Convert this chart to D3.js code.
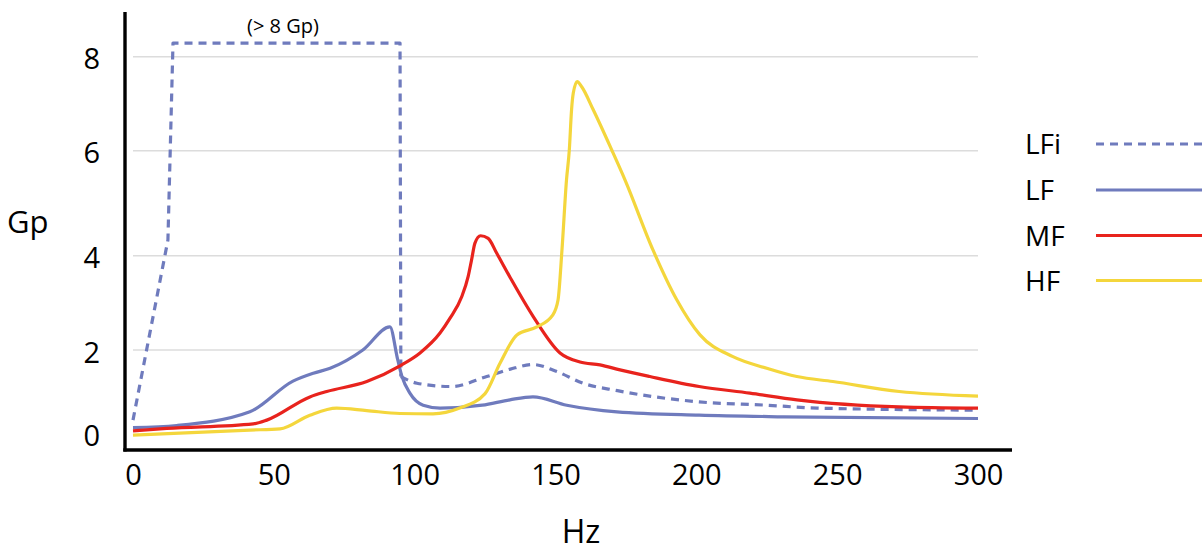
<!DOCTYPE html>
<html>
<head>
<meta charset="utf-8">
<script src="https://cdn.jsdelivr.net/npm/d3@7"></script>
<style>
  html, body { margin: 0; padding: 0; background: #fff; }
  svg { display: block; font-family: "Open Sans", "Noto Sans", sans-serif; }
</style>
</head>
<body>
<svg id="chart" width="1202" height="552"></svg>
<script>
// ---------- data ----------
const xTicks = [0, 50, 100, 150, 200, 250, 300];
const yTicks = [0, 2, 4, 6, 8];
const gridValues = [2, 4, 6, 8];

const seriesNames = ["LFi", "LF", "MF", "HF"];

// LFi: straight-edged "off the chart" part, then a smooth tail
const lfiHz = [0, 12.4, 14.2, 94.8, 95.1, 100.8, 113, 125.6, 134, 142, 150.5, 159.7, 172, 201, 225, 243, 300];
const lfiGp = [0.31, 4.3, 8.29, 8.29, 1.36, 1.2, 1.12, 1.36, 1.54, 1.65, 1.48, 1.2, 1.02, 0.75, 0.67, 0.6, 0.55];
const lfiStraightCount = 5; // first points joined with straight segments

const lfHz = [0, 15.5, 41.5, 56.8, 64, 70, 81.6, 91.2, 94, 95.5, 98.3, 103, 109, 124, 133.8, 142, 154, 171.8, 201, 231, 300];
const lfGp = [0.13, 0.18, 0.51, 1.25, 1.44, 1.56, 2.0, 2.49, 1.76, 1.36, 0.96, 0.67, 0.6, 0.67, 0.8, 0.87, 0.67, 0.51, 0.43, 0.39, 0.35];

const mfHz = [0, 12, 42.7, 47.5, 62.8, 68.8, 83, 94.8, 101.9, 109, 112.5, 116.7, 119.0, 120.2, 121.4, 123.4, 126.1, 129.1, 133.8, 142.1, 151.6, 158.7, 165.8, 172.9, 183.5, 201, 219, 235.7, 272, 300];
const mfGp = [0.05, 0.11, 0.22, 0.31, 0.87, 1.0, 1.24, 1.62, 1.93, 2.36, 2.67, 3.13, 3.56, 3.91, 4.24, 4.38, 4.33, 4.05, 3.55, 2.71, 1.93, 1.71, 1.64, 1.52, 1.36, 1.12, 0.96, 0.8, 0.63, 0.6];

const hfHz = [0, 41.5, 52.2, 62.8, 72.3, 83, 94.8, 106.5, 116, 125, 130.3, 136.3, 143.4, 149, 150.9, 152.3, 153.9, 154.9, 155.7, 156.3, 157.7, 159.3, 163.4, 170, 174.7, 184.6, 193, 201.3, 213, 225, 235.7, 248.5, 272, 300];
const hfGp = [-0.05, 0.07, 0.1, 0.43, 0.6, 0.54, 0.47, 0.46, 0.6, 0.95, 1.68, 2.32, 2.49, 2.74, 3.06, 4.11, 5.44, 6.01, 6.87, 7.22, 7.47, 7.36, 6.87, 6.01, 5.44, 4.11, 3.07, 2.32, 1.84, 1.56, 1.36, 1.24, 1.0, 0.89];

const colors = { LFi: "#6f7bbd", LF: "#6f7bbd", MF: "#e8231d", HF: "#f4d63c" };

// ---------- drawing ----------
const svg = d3.select("#chart");

const x = d3.scaleLinear().domain([0, 300]).range([133, 978]);
// hand-drawn axis: tick spacing is not perfectly uniform
const y = d3.scaleLinear().domain([0, 2, 4, 6, 8]).range([433, 350, 255.7, 150.7, 56.7]);

// gridlines
svg.append("g").selectAll("line").data(gridValues).join("line")
  .attr("x1", x(0)).attr("x2", x(300))
  .attr("y1", d => y(d)).attr("y2", d => y(d))
  .attr("stroke", "#dcdcdc").attr("stroke-width", 1.5);

const pts = (hz, gp) => hz.map((h, i) => [h, gp[i]]);
const smooth = d3.line().x(d => x(d[0])).y(d => y(d[1])).curve(d3.curveMonotoneX);
const straight = d3.line().x(d => x(d[0])).y(d => y(d[1])).curve(d3.curveLinear);

const series = [
  { name: "LFi", hz: lfiHz, gp: lfiGp, dash: "8,6" },
  { name: "LF", hz: lfHz, gp: lfGp, dash: null },
  { name: "MF", hz: mfHz, gp: mfGp, dash: null },
  { name: "HF", hz: hfHz, gp: hfGp, dash: null }
];

const g = svg.append("g").attr("fill", "none").attr("stroke-width", 3.2)
  .attr("stroke-linejoin", "round");

// LFi: straight part + smooth tail
const lfiPts = pts(lfiHz, lfiGp);
g.append("path").attr("d", straight(lfiPts.slice(0, lfiStraightCount)))
  .attr("stroke", colors.LFi).attr("stroke-dasharray", "8,6");
g.append("path").attr("d", smooth(lfiPts.slice(lfiStraightCount - 1)))
  .attr("stroke", colors.LFi).attr("stroke-dasharray", "8,6");

// solid series
g.selectAll("path.solid").data(series.slice(1)).join("path")
  .attr("class", "solid")
  .attr("d", s => smooth(pts(s.hz, s.gp)))
  .attr("stroke", s => colors[s.name]);

// axis lines
svg.append("line").attr("x1", 125).attr("x2", 125).attr("y1", 12).attr("y2", 451.5)
  .attr("stroke", "#000").attr("stroke-width", 3.4);
svg.append("line").attr("x1", 123.3).attr("x2", 1012).attr("y1", 450).attr("y2", 450)
  .attr("stroke", "#000").attr("stroke-width", 3.4);

// x tick labels
const xAxis = svg.append("g").attr("transform", "translate(0,450)")
  .call(d3.axisBottom(x).tickValues(xTicks).tickSize(0).tickPadding(14));
xAxis.select(".domain").remove();
xAxis.selectAll("text").attr("font-size", 29).attr("fill", "#000")
  .attr("font-family", "'Open Sans', sans-serif");

// y tick labels
const yAxis = svg.append("g").attr("transform", "translate(100,0)")
  .call(d3.axisLeft(y).tickValues(yTicks).tickSize(0).tickPadding(0));
yAxis.select(".domain").remove();
yAxis.selectAll("text").attr("font-size", 29).attr("fill", "#000")
  .attr("font-family", "'Open Sans', sans-serif").attr("dy", "0.42em");

// axis titles
svg.append("text").attr("x", 7).attr("y", 233).attr("font-size", 31).attr("fill", "#000").text("Gp");
svg.append("text").attr("x", 581).attr("y", 543).attr("text-anchor", "middle")
  .attr("font-size", 32).attr("fill", "#000").text("Hz");

// annotation
svg.append("text").attr("x", 283).attr("y", 33).attr("text-anchor", "middle")
  .attr("font-size", 20).attr("fill", "#000").text("(> 8 Gp)");

// legend
const legendY = [144, 190, 235.5, 280.5];
const legend = svg.append("g").selectAll("g").data(series).join("g")
  .attr("transform", (s, i) => `translate(0,${legendY[i]})`);
legend.append("text").attr("x", 1025).attr("y", 0).attr("dy", "0.36em")
  .attr("font-size", 28).attr("fill", "#000").text(s => s.name);
legend.append("line").attr("x1", 1096).attr("x2", 1202).attr("y1", 0).attr("y2", 0)
  .attr("stroke", s => colors[s.name]).attr("stroke-width", 3.2)
  .attr("stroke-dasharray", s => s.dash);
</script>
</body>
</html>
